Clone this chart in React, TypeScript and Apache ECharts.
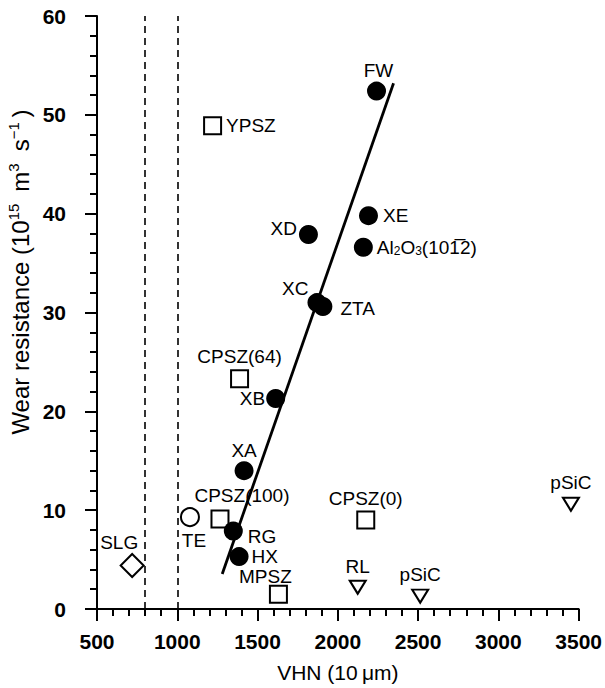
import React, { useEffect, useRef } from 'react';
import * as echarts from 'echarts';

// ---- data (VHN, wear resistance) ----
const filledNames = ['FW', 'XE', 'Al2O3', 'XD', 'XC', 'ZTA', 'XB', 'XA', 'RG', 'HX'];
const filledVHN = [2241, 2191, 2159, 1817, 1870, 1907, 1613, 1416, 1349, 1385];
const filledWear = [52.4, 39.8, 36.6, 37.9, 31.0, 30.6, 21.3, 14.0, 7.9, 5.3];

const openCircleNames = ['TE'];
const openCircleVHN = [1079];
const openCircleWear = [9.3];

const squareNames = ['YPSZ', 'CPSZ(64)', 'CPSZ(100)', 'MPSZ', 'CPSZ(0)'];
const squareVHN = [1220, 1388, 1266, 1630, 2174];
const squareWear = [48.9, 23.3, 9.1, 1.5, 9.0];

const diamondNames = ['SLG'];
const diamondVHN = [719];
const diamondWear = [4.4];

const triangleNames = ['RL', 'pSiC', 'pSiC'];
const triangleVHN = [2124, 2513, 3452];
const triangleWear = [2.2, 1.3, 10.6];

const fitVHN = [1280, 2347];
const fitWear = [3.55, 53.2];

const dashedVHN = [800, 1000];

const xTicks = { min: 500, max: 3500, interval: 500 };
const yTicks = { min: 0, max: 60, interval: 10 };

// ---- label placement (style) ----
const labelPlace: Record<string, { position: string; distance: number; offset?: number[] }> = {
  FW: { position: 'top', distance: 2, offset: [2, 0] },
  XE: { position: 'right', distance: 5 },
  Al2O3: { position: 'right', distance: 4 },
  XD: { position: 'left', distance: 2, offset: [0, -6] },
  XC: { position: 'left', distance: 1, offset: [2, -14] },
  ZTA: { position: 'right', distance: 8, offset: [0, 2] },
  XB: { position: 'left', distance: 1 },
  XA: { position: 'top', distance: 1 },
  RG: { position: 'right', distance: 5, offset: [0, 6] },
  HX: { position: 'right', distance: 3 },
  YPSZ: { position: 'right', distance: 4 },
  'CPSZ(64)': { position: 'top', distance: 3 },
  'CPSZ(100)': { position: 'top', distance: 5, offset: [22, 0] },
  MPSZ: { position: 'top', distance: 1, offset: [-13, 2] },
  'CPSZ(0)': { position: 'top', distance: 3 },
  TE: { position: 'bottom', distance: 4, offset: [4, 0] },
  SLG: { position: 'top', distance: 1, offset: [-13, 0] },
  RL: { position: 'top', distance: 4 },
  pSiC: { position: 'top', distance: 5 },
};

const displayText: Record<string, string> = {
  Al2O3: 'Al{sub|2}O{sub|3}(10{ov|1\u0305}2)',
};

const FONT = '"Liberation Sans", Arial, Helvetica, sans-serif';

function buildData(names: string[], xs: number[], ys: number[]) {
  return names.map((n, i) => {
    const p = labelPlace[n];
    return {
      name: n,
      value: [xs[i], ys[i]],
      label: {
        show: true,
        position: p.position,
        distance: p.distance,
        offset: p.offset || [0, 0],
      },
    };
  });
}

const labelBase = {
  show: true,
  color: '#000',
  opacity: 1,
  fontFamily: FONT,
  fontSize: 19,
  lineHeight: 19,
  formatter: (params: any) => displayText[params.name] || params.name,
  rich: {
    sub: { fontSize: 12, lineHeight: 11, verticalAlign: 'bottom', fontFamily: FONT, color: '#000' },
    ov: { fontSize: 19, lineHeight: 19, fontFamily: FONT, color: '#000' },
  },
};

const openStyle = { color: '#fff', borderColor: '#000', borderWidth: 2, opacity: 1 };

export default function App() {
  const ref = useRef<HTMLDivElement>(null);
  useEffect(() => {
    const chart = echarts.init(ref.current!, null, { renderer: 'svg' });
    const option: any = {
      animation: false,
      backgroundColor: '#fff',
      grid: { left: 97, right: 24, top: 16, bottom: 76, containLabel: false },
      xAxis: {
        type: 'value',
        min: xTicks.min,
        max: xTicks.max,
        interval: xTicks.interval,
        name: 'VHN (10\u2009\u03bcm)',
        nameLocation: 'middle',
        nameGap: 53,
        nameTextStyle: { fontFamily: FONT, fontSize: 21, color: '#000' },
        axisLine: { show: true, onZero: false, lineStyle: { color: '#000', width: 2 } },
        axisTick: { show: true, length: 12, lineStyle: { color: '#000', width: 2 } },
        minorTick: { show: true, splitNumber: 5, length: 7, lineStyle: { color: '#000', width: 2 } },
        axisLabel: {
          fontFamily: FONT,
          fontSize: 21,
          fontWeight: 'bold',
          color: '#000',
          margin: 22,
          formatter: (v: number) => String(v),
        },
        splitLine: { show: false },
      },
      yAxis: {
        type: 'value',
        min: yTicks.min,
        max: yTicks.max,
        interval: yTicks.interval,
        axisLine: { show: true, onZero: false, lineStyle: { color: '#000', width: 2 } },
        axisTick: { show: true, length: 12, lineStyle: { color: '#000', width: 2 } },
        minorTick: { show: true, splitNumber: 5, length: 7, lineStyle: { color: '#000', width: 2 } },
        axisLabel: {
          fontFamily: FONT,
          fontSize: 21,
          fontWeight: 'bold',
          color: '#000',
          margin: 31,
          formatter: (v: number) => String(v),
        },
        splitLine: { show: false },
      },
      graphic: [
        {
          type: 'text',
          x: 20,
          y: 272,
          rotation: Math.PI / 2,
          style: {
            text: 'Wear resistance (10{sup|15}\u2002m{sup|3}\u2002s{sup|\u22121}\u2009)',
            fontFamily: FONT,
            fontSize: 24,
            lineHeight: 28,
            fill: '#000',
            align: 'center',
            verticalAlign: 'middle',
            rich: {
              sup: { fontSize: 15, lineHeight: 15, verticalAlign: 'top', fontFamily: FONT, fill: '#000' },
            },
          },
        },
      ],
      series: [
        {
          type: 'line',
          data: fitVHN.map((x, i) => [x, fitWear[i]]),
          symbol: 'none',
          lineStyle: { color: '#000', width: 2.8 },
          z: 1,
          markLine: {
            silent: true,
            symbol: 'none',
            label: { show: false },
            lineStyle: { color: '#000', width: 1.6, type: [7, 5] },
            data: dashedVHN.map((v) => ({ xAxis: v })),
          },
        },
        {
          type: 'scatter',
          data: buildData(filledNames, filledVHN, filledWear),
          symbol: 'circle',
          symbolSize: 19,
          itemStyle: { color: '#000', opacity: 1 },
          label: labelBase,
          z: 3,
        },
        {
          type: 'scatter',
          data: buildData(openCircleNames, openCircleVHN, openCircleWear),
          symbol: 'circle',
          symbolSize: 18,
          itemStyle: openStyle,
          label: labelBase,
          z: 2,
        },
        {
          type: 'scatter',
          data: buildData(squareNames, squareVHN, squareWear),
          symbol: 'rect',
          symbolSize: 17,
          itemStyle: openStyle,
          label: labelBase,
          z: 2,
        },
        {
          type: 'scatter',
          data: buildData(diamondNames, diamondVHN, diamondWear),
          symbol: 'diamond',
          symbolSize: 23,
          itemStyle: openStyle,
          label: labelBase,
          z: 2,
        },
        {
          type: 'scatter',
          data: buildData(triangleNames, triangleVHN, triangleWear),
          symbol: 'triangle',
          symbolRotate: 180,
          symbolSize: [16, 13],
          itemStyle: openStyle,
          label: labelBase,
          z: 2,
        },
      ],
    };
    chart.setOption(option);
    return () => chart.dispose();
  }, []);
  return (
    <div
      ref={ref}
      style={{ position: 'fixed', left: 0, top: 0, width: 605, height: 688, background: '#fff' }}
    />
  );
}
